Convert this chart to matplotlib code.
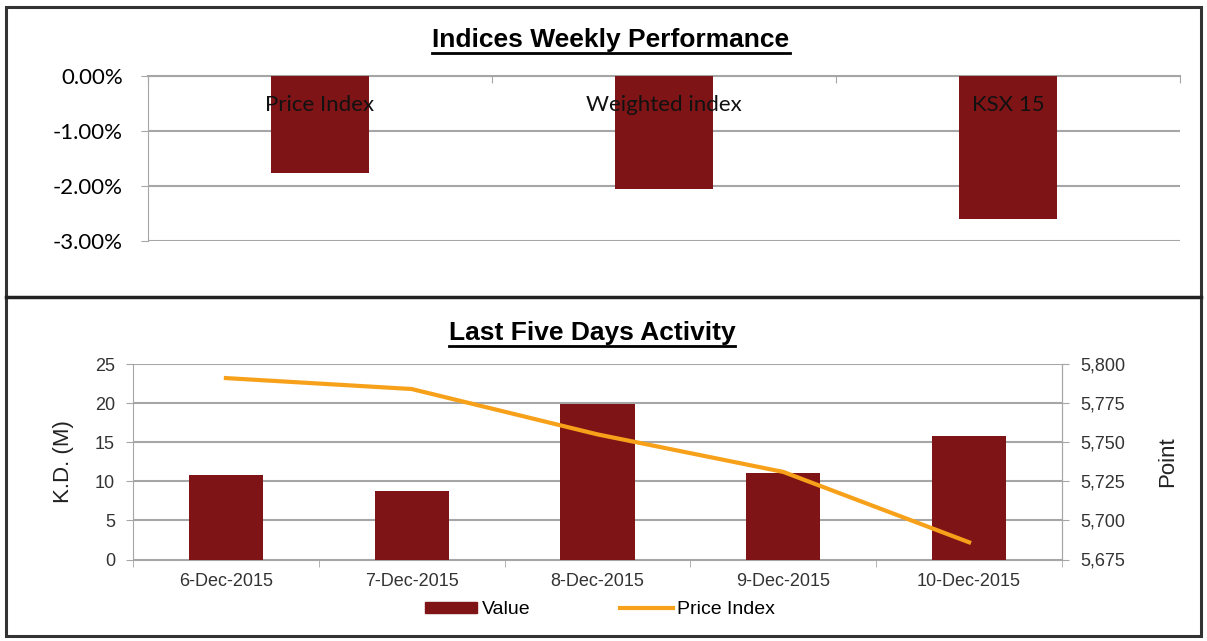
import matplotlib
matplotlib.use("Agg")
import matplotlib.pyplot as plt
import numpy as np
from matplotlib.lines import Line2D
from matplotlib.patches import Rectangle, Patch
from matplotlib.ticker import FuncFormatter

# weekly performance (%)
indices = ["Price Index", "Weighted index", "KSX 15"]
weekly_change = [-1.77, -2.05, -2.60]

# last five days
days = ["6-Dec-2015", "7-Dec-2015", "8-Dec-2015", "9-Dec-2015", "10-Dec-2015"]
value_kd = [10.8, 8.7, 19.9, 11.1, 15.8]
price_index = [5791, 5784, 5755, 5731, 5686]

BAR = "#7f1416"
LINE = "#f7a11a"
GRID = "#a6a6a6"
W, H = 1207, 641

plt.rcParams["font.family"] = ["Liberation Sans", "DejaVu Sans"]

fig = plt.figure(figsize=(W / 100, H / 100), dpi=100)


def fx(px):
  return px / W


def fy(py):
  return 1 - py / H


# frames
fig.add_artist(Rectangle((fx(6), fy(636)), fx(1195), (629) / H, transform=fig.transFigure,
                         fill=False, edgecolor="#333333", lw=2.2))
fig.add_artist(Line2D([fx(6), fx(1201)], [fy(297), fy(297)], transform=fig.transFigure,
                      color="#222222", lw=2.5))

# ---------- top chart ----------
ax1 = fig.add_axes([fx(148), fy(241), fx(1180 - 148), (241 - 76) / H])
x1 = np.arange(len(indices))
ax1.bar(x1, weekly_change, width=0.285, color=BAR, zorder=3)
ax1.set_xlim(-0.5, len(indices) - 0.5)
ax1.set_ylim(-3, 0)
ax1.set_yticks([0, -1, -2, -3])
ax1.yaxis.set_major_formatter(FuncFormatter(lambda v, p: "{:.2f}%".format(v)))
ax1.grid(axis="y", color=GRID, lw=1.5, zorder=0)
for s in ["right", "bottom"]:
  ax1.spines[s].set_visible(False)
ax1.spines["left"].set_color(GRID)
ax1.spines["top"].set_color(GRID)
ax1.spines["top"].set_linewidth(1.5)
ax1.xaxis.tick_top()
ax1.set_xticks(np.arange(len(indices) + 1) - 0.5)
ax1.set_xticklabels([])
ax1.tick_params(axis="x", direction="in", length=5, color=GRID)
ax1.tick_params(axis="y", length=5, color=GRID, labelsize=16, pad=13)
for lab in ax1.get_yticklabels():
  lab.set_fontfamily(["Lato", "DejaVu Sans"])
for i, name in enumerate(indices):
  ax1.text(i, -0.53, name, ha="center", va="center", fontsize=16,
           family=["Lato", "DejaVu Sans"], color="#111111", zorder=4)

# ---------- bottom chart ----------
ax2 = fig.add_axes([fx(133), fy(559.5), fx(1062 - 133), 195.5 / H])
x2 = np.arange(len(days))
ax2.bar(x2, value_kd, width=0.4, color=BAR, zorder=3, label="Value")
ax2.set_xlim(-0.5, len(days) - 0.5)
ax2.set_ylim(0, 25)
ax2.set_yticks(range(0, 26, 5))
ax2.grid(axis="y", color=GRID, lw=1.5, zorder=0)
ax2.set_xticks(x2)
ax2.set_xticklabels(days)
ax2.set_xticks(np.arange(len(days) + 1) - 0.5, minor=True)
ax2.tick_params(axis="x", which="major", length=0, labelsize=13, pad=10, colors="#333333")
ax2.tick_params(axis="x", which="minor", length=5, color=GRID)
ax2.tick_params(axis="y", length=5, color=GRID, labelsize=13, pad=8, colors="#333333")
ax2.spines["top"].set_visible(False)
for s in ["left", "right", "bottom"]:
  ax2.spines[s].set_color(GRID)
ax2.set_ylabel("K.D. (M)", fontsize=16, labelpad=15, color="#222222")

ax3 = ax2.twinx()
ax3.plot(x2, price_index, color=LINE, lw=3, label="Price Index", zorder=5)
ax3.set_ylim(5675, 5800)
ax3.set_yticks(range(5675, 5801, 25))
ax3.yaxis.set_major_formatter(FuncFormatter(lambda v, p: "{:,.0f}".format(v)))
ax3.tick_params(axis="y", length=5, color=GRID, labelsize=13, pad=8, colors="#333333")
for s in ["left", "top", "bottom"]:
  ax3.spines[s].set_visible(False)
ax3.spines["right"].set_color(GRID)
ax3.set_ylabel("Point", fontsize=16, labelpad=23, color="#222222")

handles = [Patch(color=BAR), Line2D([0], [0], color=LINE, lw=3)]
fig.legend(handles, ["Value", "Price Index"], loc="center", bbox_to_anchor=(fx(600), fy(610)),
           ncol=2, frameon=False, fontsize=14, handlelength=2.7, handleheight=0.45,
           handletextpad=0.25, columnspacing=4.6)

# underlined titles
t1 = fig.text(fx(611), fy(40), "Indices Weekly Performance", ha="center", va="center",
              fontsize=19, fontweight="bold")
t2 = fig.text(fx(592), fy(333), "Last Five Days Activity", ha="center", va="center",
              fontsize=19, fontweight="bold")
fig.canvas.draw()
r = fig.canvas.get_renderer()
for t in [t1, t2]:
  bb = t.get_window_extent(r).transformed(fig.transFigure.inverted())
  fig.add_artist(Line2D([bb.x0, bb.x1], [bb.y0 - 0.002, bb.y0 - 0.002],
                        transform=fig.transFigure, color="black", lw=2))

fig.savefig("out.png", dpi=100)
